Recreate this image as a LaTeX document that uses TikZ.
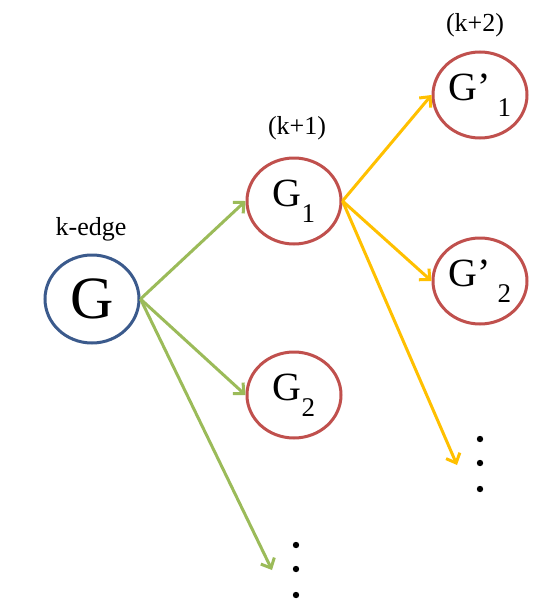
\documentclass[tikz,border=0pt]{standalone}
\usepackage{fontspec}
\setmainfont{Liberation Serif}
\usepackage{tikz}
\usetikzlibrary{arrows.meta, shapes.geometric}

\definecolor{gblue}{RGB}{59,90,140}
\definecolor{gred}{RGB}{192,80,77}
\definecolor{ggreen}{RGB}{155,187,89}
\definecolor{gyellow}{RGB}{255,192,0}

\newcommand{\sub}[1]{\raisebox{-0.4em}{\fontsize{27}{27}\selectfont #1}}

\begin{document}
\begin{tikzpicture}[
  x=1pt, y=-1pt,
  % --- graph styles ---
  rootnode/.style={
    ellipse, draw=gblue, line width=3pt, fill=white,
    minimum width=94pt, minimum height=88pt, inner sep=0pt,
    font=\fontsize{60}{60}\selectfont,
  },
  childnode/.style={
    ellipse, draw=gred, line width=3pt, fill=white,
    minimum width=94pt, minimum height=86pt, inner sep=0pt,
    font=\fontsize{40}{40}\selectfont,
  },
  lbl/.style={font=\fontsize{26}{26}\selectfont},
  grarr/.style={-{Straight Barb[length=8pt, width=15pt, line width=3pt]},
    line width=3pt, draw=ggreen},
  yarr/.style={-{Straight Barb[length=8pt, width=15pt, line width=3pt]},
    line width=3pt, draw=gyellow},
]
\useasboundingbox (0,0) rectangle (536,613);

% ---------- Level k ----------
\node[rootnode] (g) at (92,299) {G};
\node[lbl] (klbl) at (91,229) {k-edge};

% ---------- Level k+1 ----------
\node[childnode] (g1) at (294,201) {G\sub{1}};
\node[childnode] (g2) at (294,395) {G\sub{2}};
\node[lbl] (k1lbl) at (297,128) {(k+1)};

% ---------- Level k+2 ----------
\node[childnode] (h1) at (480,95) {G’\,\sub{1}};
\node[childnode] (h2) at (480,281) {G’\,\sub{2}};
\node[lbl] (k2lbl) at (475,25) {(k+2)};

% free ends of the open branches
\coordinate (gend) at (272,570);
\coordinate (yend) at (457,465);

% ---------- Branches from G ----------
\draw[grarr] (g.east) -- (g1.west);
\draw[grarr] (g.east) -- (g2.west);
\draw[grarr] (g.east) -- (gend);

% ---------- Branches from G1 ----------
\draw[yarr] (g1.east) -- (h1.west);
\draw[yarr] (g1.east) -- (h2.west);
\draw[yarr] (g1.east) -- (yend);

% ---------- Vertical dots ----------
\foreach \yy in {545,569,595} \fill (296,\yy) circle (3.2pt);
\foreach \yy in {439,463,489} \fill (480,\yy) circle (3.2pt);

\end{tikzpicture}
\end{document}
